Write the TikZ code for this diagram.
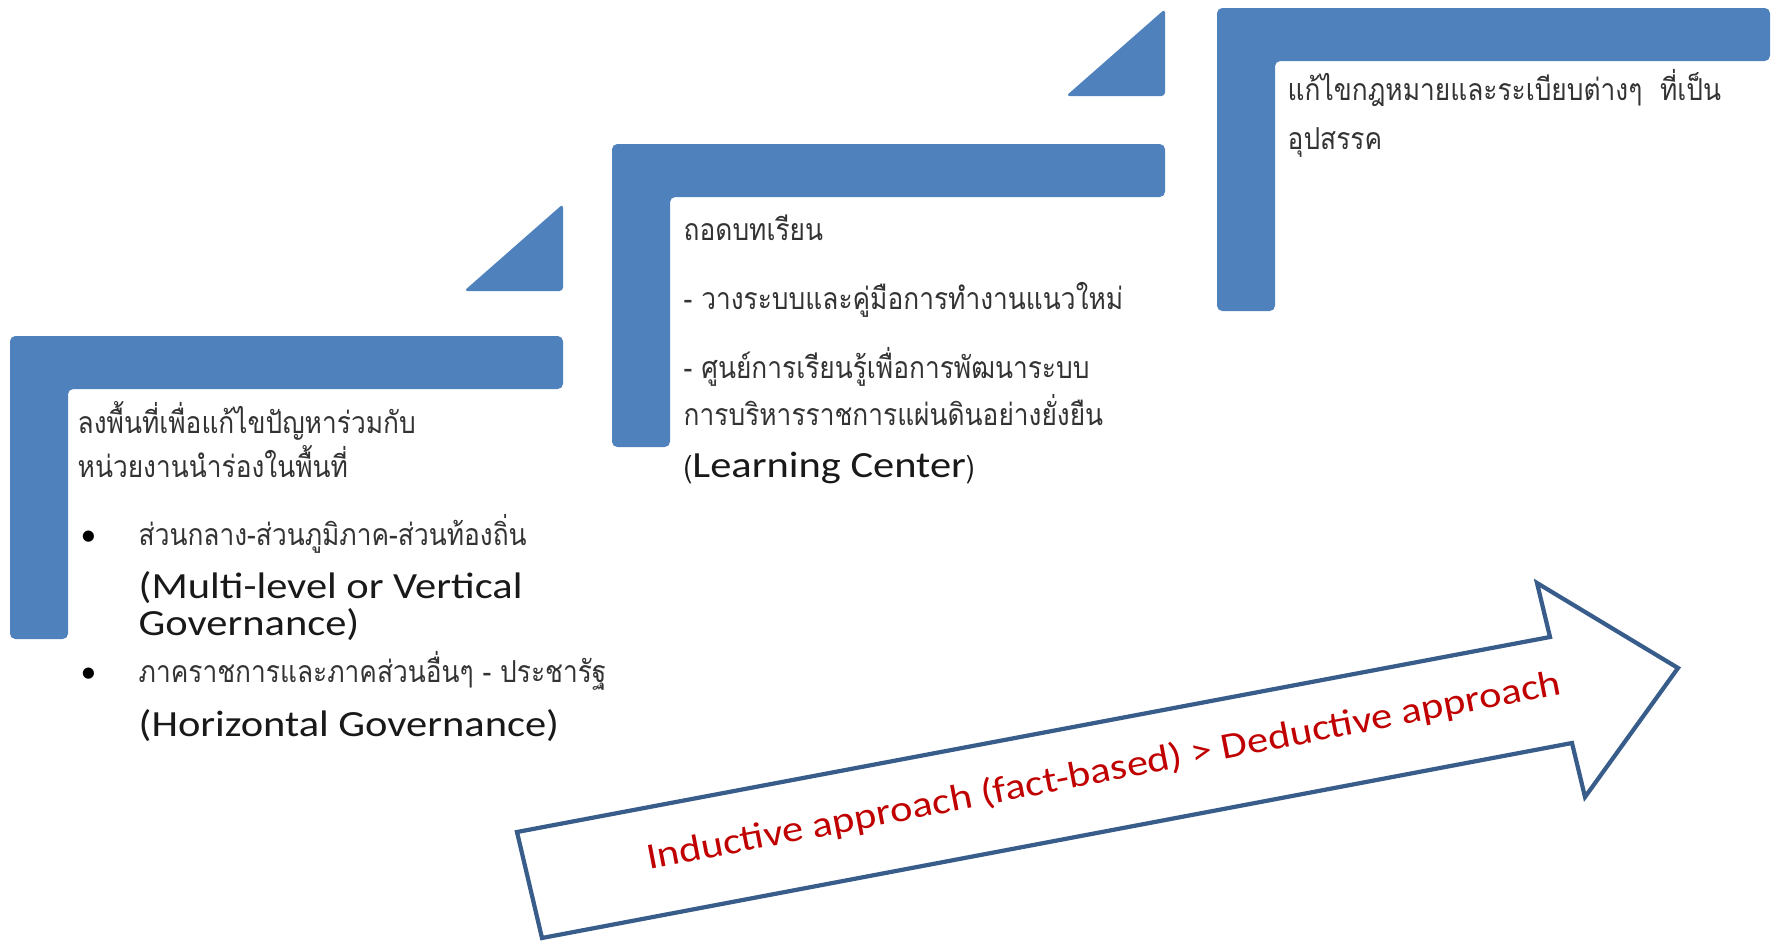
\documentclass[tikz,border=0pt]{standalone}
\usepackage{fontspec}
\setmainfont{Carlito}
\newfontfamily\thaifont[Script=Thai,FakeStretch=0.87]{Loma}
\newfontfamily\engfont[FakeStretch=1.15]{Carlito}
\definecolor{stepblue}{HTML}{4F81BD}
\definecolor{arrowedge}{HTML}{385D8A}
\definecolor{arrowred}{HTML}{C00000}

\tikzset{
  thai/.style={anchor=base west, inner sep=0pt, text=black!80,
    font=\thaifont\fontsize{8.6}{11}\selectfont},
  eng/.style={anchor=base west, inner sep=0pt, text=black!90,
    font=\engfont\fontsize{10.5}{12}\selectfont},
  dot/.style={anchor=base west, inner sep=0pt, font=\fontsize{9}{11}\selectfont},
}

\begin{document}
\begin{tikzpicture}[x=0.01cm,y=-0.01cm]
    \useasboundingbox (0,0) rectangle (1775,945);

    % the three steps
    \foreach \x/\y in {10/336, 612/144, 1217/8} {
        \fill[stepblue, rounded corners=1.5pt] (\x,\y) -- ++(553,0) -- ++(0,53)
            -- ++(-495,0) -- ++(0,250) -- ++(-58,0) -- cycle;
    }

    % small triangles between the steps
    \foreach \x/\y in {563/291, 1165/96} {
        \fill[stepblue, rounded corners=1pt] (\x,\y) -- ++(-99,0) -- ++(99,-87) -- cycle;
    }

    % step 1
    \node[thai] (s1a) at (77,433) {ลงพื้นที่เพื่อแก้ไขปัญหาร่วมกับ};
    \node[thai] (s1b) at (77,477) {หน่วยงานนำร่องในพื้นที่};
    \node[dot] (b1) at (80,545) {•};
    \node[thai] (s1c) at (138,545) {ส่วนกลาง-ส่วนภูมิภาค-ส่วนท้องถิ่น};
    \node[eng] (s1d) at (138,598) {(Multi-level or Vertical};
    \node[eng] (s1e) at (138,635) {Governance)};
    \node[dot] (b2) at (80,682) {•};
    \node[thai] (s1f) at (138,682) {ภาคราชการและภาคส่วนอื่นๆ - ประชารัฐ};
    \node[eng] (s1g) at (138,736) {(Horizontal Governance)};

    % step 2
    \node[thai] (s2a) at (683,240) {ถอดบทเรียน};
    \node[thai] (s2b) at (683,309) {- วางระบบและคู่มือการทำงานแนวใหม่};
    \node[thai] (s2c) at (683,378) {- ศูนย์การเรียนรู้เพื่อการพัฒนาระบบ};
    \node[thai] (s2d) at (683,425) {การบริหารราชการแผ่นดินอย่างยั่งยืน};
    \node[eng] (s2e) at (683,477) {{\thaifont\fontsize{8.6}{11}\selectfont(}Learning Center{\thaifont\fontsize{8.6}{11}\selectfont)}};

    % step 3
    \node[thai] (s3a) at (1287,100) {แก้ไขกฎหมายและระเบียบต่างๆ\ \ ที่เป็น};
    \node[thai] (s3b) at (1287,149) {อุปสรรค};

    % big arrow
    \draw[arrowedge, line width=1.2pt, fill=white, line join=miter]
        (517,832) -- (1550,637) -- (1537,583) -- (1678,668)
        -- (1585,797) -- (1572,743) -- (542,938) -- cycle;
    \node[rotate=10.9, anchor=base, inner sep=0pt, text=arrowred,
        font=\engfont\fontsize{10.5}{12}\selectfont] (trend) at (1106,782)
        {Inductive approach (fact-based) > Deductive approach};
\end{tikzpicture}
\end{document}
